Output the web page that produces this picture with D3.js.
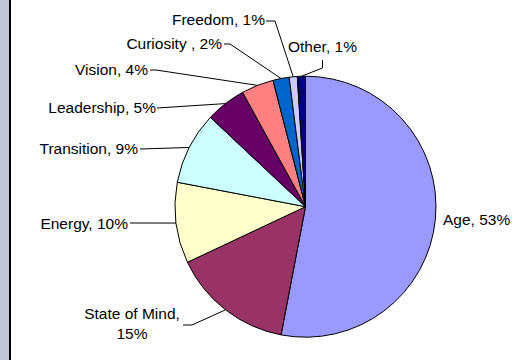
<!DOCTYPE html>
<html>
<head>
<meta charset="utf-8">
<script src="https://cdn.jsdelivr.net/npm/d3@7/dist/d3.min.js"></script>
<style>
  html, body { margin: 0; padding: 0; background: #fff; }
  svg { display: block; }
  text { font-family: "Liberation Sans", Arial, sans-serif; font-size: 15.5px; fill: #000; }
</style>
</head>
<body>
<script>
// Share of responses per category, clockwise from 12 o'clock
const categories = ["Age", "State of Mind", "Energy", "Transition", "Leadership", "Vision", "Curiosity ", "Freedom", "Other"];
const values = [53, 15, 10, 9, 5, 4, 2, 1, 1];
const colors = ["#9999FF", "#993366", "#FFFFCC", "#CCFFFF", "#660066", "#FF8080", "#0066CC", "#CCCCFF", "#000080"];

const W = 512, H = 360;
const cx = 305.5, cy = 206.7, R = 130.5;

// Label placement: text anchor point, alignment, and elbow points of the leader line
const labelLayout = {
  "Age":           { x: 443, y: 225, anchor: "start", lines: 1, leader: null },
  "State of Mind": { x: 132, y: 319, anchor: "middle", lines: 2, leader: [[183, 325], [192, 325]] },
  "Energy":        { x: 128, y: 229, anchor: "end", lines: 1, leader: [[130, 223]] },
  "Transition":    { x: 138, y: 154, anchor: "end", lines: 1, leader: [[140, 149]] },
  "Leadership":    { x: 156, y: 113, anchor: "end", lines: 1, leader: [[157, 108]] },
  "Vision":        { x: 148, y: 75,  anchor: "end", lines: 1, leader: [[150, 70], [156, 70]] },
  "Curiosity ":    { x: 222, y: 49,  anchor: "end", lines: 1, leader: [[224, 44], [230, 44]] },
  "Freedom":       { x: 265, y: 25,  anchor: "end", lines: 1, leader: [[266, 21], [275, 21]] },
  "Other":         { x: 288, y: 52,  anchor: "start", lines: 1, leader: [[322.5, 60], [322.5, 68]] }
};

const data = categories.map((c, i) => ({ name: c, value: values[i], color: colors[i] }));

const svg = d3.select("body").append("svg")
  .attr("width", W).attr("height", H);

// Left frame band
svg.append("rect").attr("x", 0).attr("y", 0).attr("width", 9).attr("height", H).attr("fill", "#C3C7DA");
svg.append("line").attr("x1", 10).attr("x2", 10).attr("y1", 0).attr("y2", H)
  .attr("stroke", "#000").attr("stroke-width", 2);

const total = d3.sum(values);
const pie = d3.pie().sort(null).value(d => d.value).startAngle(0).endAngle(2 * Math.PI);
const arcs = pie(data);

const arc = d3.arc().innerRadius(0).outerRadius(R);
const edge = d3.arc().innerRadius(R).outerRadius(R);

const g = svg.append("g").attr("transform", `translate(${cx},${cy})`);

g.selectAll("path.slice")
  .data(arcs)
  .join("path")
  .attr("class", "slice")
  .attr("d", arc)
  .attr("fill", d => d.data.color)
  .attr("stroke", "#000")
  .attr("stroke-width", 1)
  .attr("stroke-linejoin", "round");

const fmt = v => Math.round(v / total * 100) + "%";

// Leader lines from slice edge midpoint to label
arcs.forEach(a => {
  const L = labelLayout[a.data.name];
  if (!L.leader) return;
  const [ex, ey] = edge.centroid(a);
  const pts = L.leader.concat([[ex + cx, ey + cy]]);
  svg.append("path")
    .attr("d", d3.line()(pts))
    .attr("fill", "none")
    .attr("stroke", "#000")
    .attr("stroke-width", 1);
});

// Category labels
arcs.forEach(a => {
  const L = labelLayout[a.data.name];
  const t = svg.append("text")
    .attr("x", L.x).attr("y", L.y)
    .attr("text-anchor", L.anchor);
  if (L.lines === 2) {
    t.append("tspan").attr("x", L.x).text(a.data.name + ",");
    t.append("tspan").attr("x", L.x).attr("dy", 20).text(fmt(a.data.value));
  } else {
    t.text(a.data.name + ", " + fmt(a.data.value));
  }
});
</script>
</body>
</html>
